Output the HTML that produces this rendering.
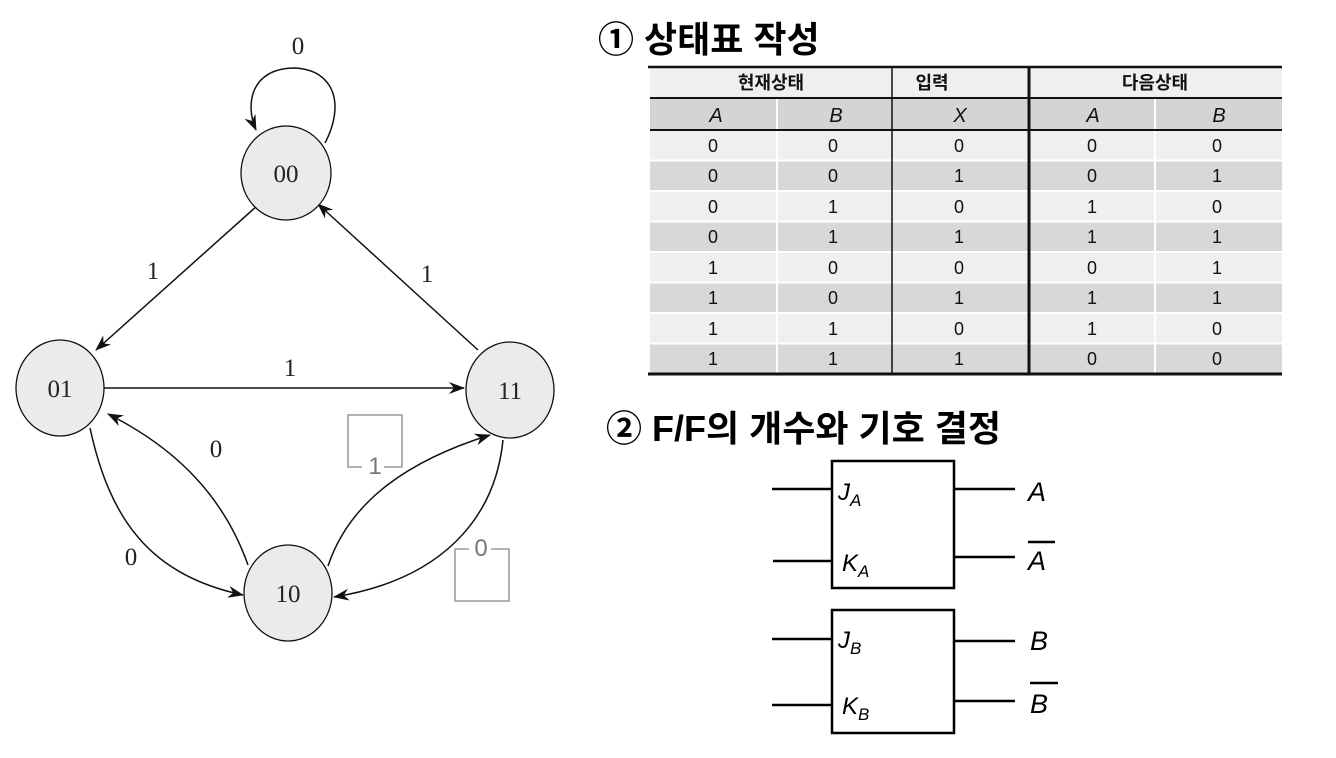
<!DOCTYPE html>
<html><head><meta charset="utf-8"><style>
body{margin:0;background:#fff;}
svg{display:block;}
.t{font-family:"Liberation Serif",serif;font-size:25px;fill:#222;}
.k{font-family:"Liberation Sans","Noto Sans CJK KR",sans-serif;}
</style></head><body>
<svg width="1336" height="758" viewBox="0 0 1336 758" xmlns="http://www.w3.org/2000/svg">
<defs><marker id="ar" markerWidth="16" markerHeight="12" refX="15" refY="6" orient="auto" markerUnits="userSpaceOnUse"><path d="M0,0 L16,6 L0,12 L5,6 Z" fill="#111"/></marker></defs>
<g fill="none" stroke="#111" stroke-width="1.5">
<path d="M325,143 C345,105 335,70 295,68 C250,68 245,105 256,130" marker-end="url(#ar)"/>
<path d="M258,205 L96,350" marker-end="url(#ar)"/>
<path d="M478,350 L318,204" marker-end="url(#ar)"/>
<path d="M104,388 L464,388" marker-end="url(#ar)"/>
<path d="M248,565 C225,500 180,450 108,414" marker-end="url(#ar)"/>
<path d="M90,428 C110,520 150,575 243,595" marker-end="url(#ar)"/>
<path d="M328,566 C350,500 410,460 490,435" marker-end="url(#ar)"/>
<path d="M503,440 C495,520 440,580 334,597" marker-end="url(#ar)"/>
</g>
<g fill="#ebebeb" stroke="#111" stroke-width="1.3">
<ellipse cx="286" cy="173" rx="45" ry="47"/>
<ellipse cx="60" cy="388" rx="44" ry="48"/>
<ellipse cx="510" cy="390" rx="44" ry="48"/>
<ellipse cx="288" cy="593" rx="44" ry="48"/>
</g>
<g class="t" text-anchor="middle">
<text x="286" y="182">00</text><text x="60" y="397">01</text><text x="510" y="399">11</text><text x="288" y="602">10</text>
<text x="298" y="54">0</text><text x="153" y="279">1</text><text x="427" y="282">1</text><text x="290" y="376">1</text>
<text x="216" y="457">0</text><text x="131" y="565">0</text>
</g>
<g fill="none" stroke="#888" stroke-width="1.3"><rect x="348" y="415" width="54" height="52"/><rect x="455" y="549" width="54" height="52"/></g>
<rect x="362" y="458" width="22" height="16" fill="#fff"/><rect x="469" y="540" width="22" height="16" fill="#fff"/>
<text x="375" y="474" font-family="Liberation Sans,sans-serif" font-size="24" fill="#777" text-anchor="middle">1</text>
<text x="481" y="556" font-family="Liberation Sans,sans-serif" font-size="24" fill="#777" text-anchor="middle">0</text>

<text x="598" y="52" class="k" font-size="36" font-weight="bold" fill="#000">① 상태표 작성</text>
<text x="606" y="441" class="k" font-size="36" font-weight="bold" fill="#000">② F/F의 개수와 기호 결정</text>

<rect x="650" y="68" width="632" height="30" fill="#efefef"/>
<rect x="650" y="98" width="632" height="32" fill="#d4d4d4"/>
<g>
<rect x="650" y="130" width="632" height="30.5" fill="#efefef"/>
<rect x="650" y="160.5" width="632" height="30.5" fill="#d8d8d8"/>
<rect x="650" y="191" width="632" height="30.5" fill="#efefef"/>
<rect x="650" y="221.5" width="632" height="30.5" fill="#d8d8d8"/>
<rect x="650" y="252" width="632" height="30.5" fill="#efefef"/>
<rect x="650" y="282.5" width="632" height="30.5" fill="#d8d8d8"/>
<rect x="650" y="313" width="632" height="30.5" fill="#efefef"/>
<rect x="650" y="343.5" width="632" height="30.5" fill="#d8d8d8"/>
</g>
<g stroke="#fff" stroke-width="2">
<line x1="777" y1="98" x2="777" y2="374"/><line x1="1155" y1="98" x2="1155" y2="374"/>
<line x1="650" y1="160.5" x2="1282" y2="160.5"/><line x1="650" y1="191" x2="1282" y2="191"/><line x1="650" y1="221.5" x2="1282" y2="221.5"/><line x1="650" y1="252" x2="1282" y2="252"/><line x1="650" y1="282.5" x2="1282" y2="282.5"/><line x1="650" y1="313" x2="1282" y2="313"/><line x1="650" y1="343.5" x2="1282" y2="343.5"/>
</g>
<g stroke="#111">
<line x1="648" y1="67" x2="1282" y2="67" stroke-width="2.5"/>
<line x1="650" y1="98" x2="1282" y2="98" stroke-width="2"/>
<line x1="650" y1="130" x2="1282" y2="130" stroke-width="2"/>
<line x1="648" y1="374" x2="1282" y2="374" stroke-width="3"/>
<line x1="892" y1="67" x2="892" y2="374" stroke-width="1.5"/>
<line x1="1029" y1="67" x2="1029" y2="374" stroke-width="3"/>
</g>
<g class="k" font-size="18" fill="#111" text-anchor="middle">
<text x="771" y="89" font-weight="bold">현재상태</text>
<text x="932" y="89" font-weight="bold">입력</text>
<text x="1155" y="89" font-weight="bold">다음상태</text>
<g font-style="italic" font-size="20"><text x="716" y="122">A</text><text x="836" y="122">B</text><text x="960" y="122">X</text><text x="1093" y="122">A</text><text x="1219" y="122">B</text></g>
<g font-size="18">
<text x="713" y="152">0</text><text x="833" y="152">0</text><text x="959" y="152">0</text><text x="1092" y="152">0</text><text x="1217" y="152">0</text>
<text x="713" y="182">0</text><text x="833" y="182">0</text><text x="959" y="182">1</text><text x="1092" y="182">0</text><text x="1217" y="182">1</text>
<text x="713" y="213">0</text><text x="833" y="213">1</text><text x="959" y="213">0</text><text x="1092" y="213">1</text><text x="1217" y="213">0</text>
<text x="713" y="243">0</text><text x="833" y="243">1</text><text x="959" y="243">1</text><text x="1092" y="243">1</text><text x="1217" y="243">1</text>
<text x="713" y="274">1</text><text x="833" y="274">0</text><text x="959" y="274">0</text><text x="1092" y="274">0</text><text x="1217" y="274">1</text>
<text x="713" y="304">1</text><text x="833" y="304">0</text><text x="959" y="304">1</text><text x="1092" y="304">1</text><text x="1217" y="304">1</text>
<text x="713" y="335">1</text><text x="833" y="335">1</text><text x="959" y="335">0</text><text x="1092" y="335">1</text><text x="1217" y="335">0</text>
<text x="713" y="365">1</text><text x="833" y="365">1</text><text x="959" y="365">1</text><text x="1092" y="365">0</text><text x="1217" y="365">0</text>
</g></g>

<g fill="none" stroke="#000" stroke-width="2.5">
<rect x="832" y="461" width="122" height="127"/>
<rect x="832" y="610" width="122" height="123"/>
<line x1="772" y1="489" x2="832" y2="489"/><line x1="773" y1="561" x2="832" y2="561"/>
<line x1="954" y1="489" x2="1015" y2="489"/><line x1="954" y1="557" x2="1015" y2="557"/>
<line x1="772" y1="639" x2="832" y2="639"/><line x1="772" y1="705" x2="832" y2="705"/>
<line x1="954" y1="641" x2="1015" y2="641"/><line x1="954" y1="701" x2="1015" y2="701"/>
<line x1="1028" y1="542" x2="1055" y2="542"/><line x1="1030" y1="683" x2="1058" y2="683"/>
</g>
<g font-family="Liberation Sans,sans-serif" font-style="italic" fill="#000">
<text x="838" y="500" font-size="24">J<tspan font-size="17" dy="6">A</tspan></text>
<text x="842" y="571" font-size="24">K<tspan font-size="17" dy="6">A</tspan></text>
<text x="838" y="648" font-size="24">J<tspan font-size="17" dy="6">B</tspan></text>
<text x="842" y="714" font-size="24">K<tspan font-size="17" dy="6">B</tspan></text>
<g font-size="27"><text x="1028" y="501">A</text><text x="1028" y="570">A</text><text x="1030" y="650">B</text><text x="1030" y="713">B</text></g>
</g>
</svg>
</body></html>
